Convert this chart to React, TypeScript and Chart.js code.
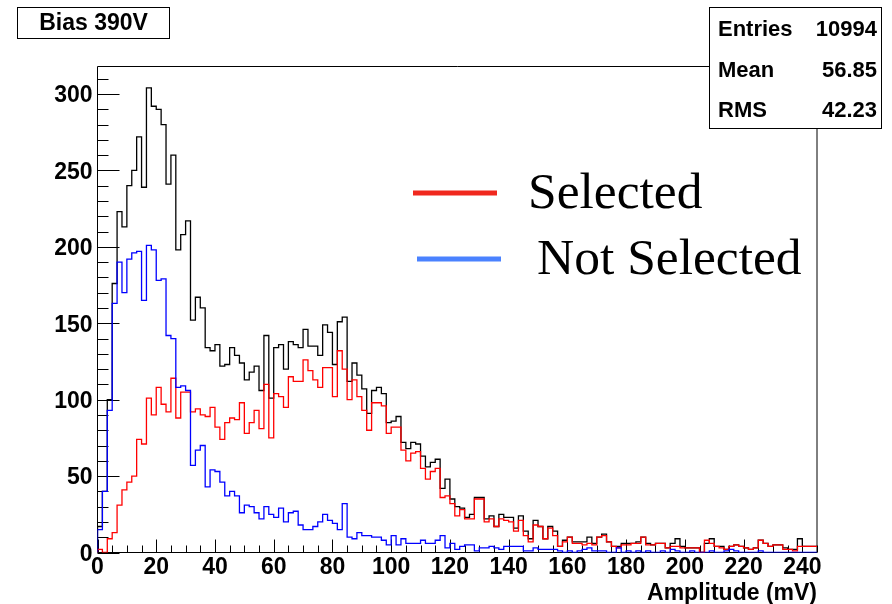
import React, { useEffect, useRef } from 'react';
import { Chart, registerables } from 'chart.js';

Chart.register(...registerables);

const X_MIN = 0;
const X_MAX = 245;
const Y_MAX = 318;
const xTickValues = [0, 20, 40, 60, 80, 100, 120, 140, 160, 180, 200, 220, 240];
const yTickValues = [0, 50, 100, 150, 200, 250, 300];
const plotTitle = 'Bias 390V';
const axisTitle = 'Amplitude (mV)';
const statsLabels = ['Entries', 'Mean', 'RMS'];
const statsValues = ['10994', '56.85', '42.23'];
const legendLabels = ['Selected', 'Not Selected'];

// counts per bin (147 bins, 0 - 245 mV)
const totalCounts = [
  17, 40, 100, 176, 223, 213, 240, 250, 272, 239, 304, 292, 290, 280, 241, 260, 198, 208, 217, 152,
  167, 160, 134, 132, 136, 122, 123, 134, 129, 124, 113, 118, 122, 106, 142, 101, 134, 136, 120, 138,
  136, 134, 146, 135, 135, 129, 149, 144, 123, 151, 154, 112, 124, 116, 107, 91, 106, 108, 104, 85,
  86, 89, 72, 68, 72, 71, 63, 56, 59, 61, 42, 48, 35, 30, 29, 23, 25, 36, 36, 22,
  24, 17, 25, 23, 23, 16, 24, 14, 9, 21, 17, 9, 17, 14, 4, 8, 10, 7, 7, 7,
  10, 6, 10, 12, 7, 4, 4, 6, 6, 6, 7, 10, 6, 5, 6, 6, 3, 6, 9, 4,
  3, 3, 3, 0, 6, 9, 4, 4, 2, 4, 5, 4, 3, 2, 3, 8, 6, 4, 5, 5,
  3, 2, 2, 9, 4, 4, 4,
];
const selectedCounts = [
  2, 0, 9, 13, 31, 41, 46, 50, 74, 71, 101, 90, 108, 97, 92, 114, 88, 105, 105, 92,
  94, 90, 89, 95, 82, 74, 85, 88, 87, 98, 78, 85, 93, 81, 110, 75, 104, 102, 95, 115,
  112, 112, 126, 119, 113, 108, 121, 121, 102, 132, 120, 100, 113, 102, 93, 80, 98, 98, 96, 78,
  82, 82, 67, 60, 65, 66, 55, 48, 53, 55, 36, 37, 32, 24, 28, 22, 22, 35, 35, 20,
  22, 17, 22, 21, 20, 14, 21, 11, 7, 18, 17, 9, 16, 11, 4, 7, 10, 6, 6, 5,
  6, 5, 10, 11, 7, 4, 3, 5, 5, 6, 6, 10, 5, 5, 6, 6, 3, 4, 4, 3,
  3, 3, 3, 0, 8, 6, 4, 3, 2, 4, 5, 4, 3, 2, 3, 8, 6, 4, 5, 5,
  2, 2, 1, 4, 4, 4, 4,
];
const notSelectedCounts = [
  15, 40, 93, 163, 190, 170, 192, 196, 197, 165, 201, 198, 178, 179, 142, 140, 108, 109, 106, 57,
  67, 70, 43, 54, 53, 46, 37, 40, 37, 26, 31, 30, 26, 22, 30, 25, 23, 29, 20, 26,
  27, 18, 15, 15, 17, 20, 25, 21, 19, 15, 32, 10, 9, 13, 11, 11, 10, 10, 8, 5,
  11, 5, 9, 6, 6, 6, 8, 6, 6, 8, 11, 3, 6, 2, 4, 5, 5, 1, 3, 3,
  4, 3, 2, 4, 4, 4, 4, 1, 1, 3, 2, 2, 2, 2, 1, 0, 1, 0, 1, 2,
  3, 1, 1, 1, 0, 0, 3, 0, 1, 0, 1, 0, 1, 0, 0, 1, 0, 2, 1, 0,
  0, 1, 0, 0, 0, 1, 0, 0, 1, 2, 1, 0, 0, 0, 0, 1, 0, 0, 0, 0,
  0, 0, 0, 0, 0, 0, 0,
];

const FONT = '"Liberation Sans", Arial, Helvetica, sans-serif';
const SERIF = '"Liberation Serif", "DejaVu Serif", serif';

function toSteps(values: number[]) {
  const w = (X_MAX - X_MIN) / values.length;
  const pts = values.map((v, i) => ({ x: X_MIN + i * w, y: v }));
  pts.unshift({ x: X_MIN, y: 0 });
  pts.push({ x: X_MAX, y: values[values.length - 1] });
  return pts;
}

const rootPlugin = {
  id: 'rootStyle',
  beforeDatasetsDraw(chart: any) {
    const { ctx, chartArea: a, scales } = chart;
    const xs = scales.x;
    const ys = scales.y;
    ctx.save();
    ctx.strokeStyle = '#000';
    ctx.lineWidth = 1;
    ctx.beginPath();
    ctx.rect(a.left, a.top, a.right - a.left, a.bottom - a.top);
    ctx.stroke();
    ctx.beginPath();
    for (let v = 0; v <= X_MAX; v += 5) {
      const px = Math.round(xs.getPixelForValue(v)) + 0.5;
      const len = v % 20 === 0 ? 13 : 7;
      ctx.moveTo(px, a.bottom);
      ctx.lineTo(px, a.bottom - len);
    }
    for (let v = 0; v <= Y_MAX; v += 10) {
      const py = Math.round(ys.getPixelForValue(v)) + 0.5;
      const len = v % 50 === 0 ? 22 : 11;
      ctx.moveTo(a.left, py);
      ctx.lineTo(a.left + len, py);
    }
    ctx.stroke();
    ctx.restore();
  },
  afterDraw(chart: any) {
    const { ctx } = chart;
    ctx.save();
    // title box
    ctx.fillStyle = '#fff';
    ctx.fillRect(17.5, 7.5, 152, 31);
    ctx.strokeStyle = '#000';
    ctx.lineWidth = 1;
    ctx.strokeRect(17.5, 7.5, 152, 31);
    ctx.fillStyle = '#000';
    ctx.font = `bold 23px ${FONT}`;
    ctx.textAlign = 'center';
    ctx.textBaseline = 'middle';
    ctx.fillText(plotTitle, 93.5, 24);
    // stats box
    ctx.fillStyle = '#fff';
    ctx.fillRect(709.5, 7.5, 172, 121);
    ctx.strokeRect(709.5, 7.5, 172, 121);
    ctx.fillStyle = '#000';
    ctx.font = `bold 22px ${FONT}`;
    statsLabels.forEach((lab, i) => {
      const y = 30 + i * 40.5;
      ctx.textAlign = 'left';
      ctx.fillText(lab, 718, y);
      ctx.textAlign = 'right';
      ctx.fillText(statsValues[i], 877, y);
    });
    // legend
    const colors = ['#f0281e', '#4a82ff'];
    const lineY = [193, 259];
    const lineX = [413, 417];
    const textX = [528, 537];
    legendLabels.forEach((lab, i) => {
      ctx.strokeStyle = colors[i];
      ctx.lineWidth = 5;
      ctx.beginPath();
      ctx.moveTo(lineX[i], lineY[i]);
      ctx.lineTo(lineX[i] + 84, lineY[i]);
      ctx.stroke();
      ctx.fillStyle = '#000';
      ctx.font = `51.5px ${SERIF}`;
      ctx.textAlign = 'left';
      ctx.textBaseline = 'alphabetic';
      ctx.fillText(lab, textX[i], lineY[i] + 15);
    });
    ctx.restore();
  },
};

export default function App() {
  const ref = useRef<HTMLCanvasElement>(null);
  useEffect(() => {
    const canvas = ref.current!;
    const chart = new Chart(canvas, {
      type: 'line',
      data: {
        datasets: [
          { label: 'Not Selected', data: toSteps(notSelectedCounts), borderColor: '#0000ff', order: 0 },
          { label: 'Selected', data: toSteps(selectedCounts), borderColor: '#ff0000', order: 1 },
          { label: 'Total', data: toSteps(totalCounts), borderColor: '#000000', order: 2 },
        ].map((d) => ({
          ...d,
          stepped: true,
          borderWidth: 1.3,
          pointRadius: 0,
          fill: false,
          tension: 0,
        })) as any,
      },
      options: {
        animation: false,
        responsive: false,
        maintainAspectRatio: false,
        devicePixelRatio: 1,
        layout: { padding: { top: 66.5, right: 75, left: 0, bottom: 0 } },
        plugins: { legend: { display: false }, tooltip: { enabled: false }, title: { display: false } },
        scales: {
          x: {
            type: 'linear',
            min: X_MIN,
            max: X_MAX,
            grid: { display: false, drawTicks: false },
            border: { display: false },
            afterBuildTicks: (s: any) => {
              s.ticks = xTickValues.map((v) => ({ value: v }));
            },
            ticks: {
              autoSkip: false,
              maxRotation: 0,
              padding: 1,
              color: '#000',
              font: { family: FONT, weight: 'bold', size: 23 },
            },
            title: {
              display: true,
              text: axisTitle,
              align: 'end',
              color: '#000',
              padding: { top: 0, bottom: -1 },
              font: { family: FONT, weight: 'bold', size: 23, lineHeight: 1.0 },
            },
            afterFit: (s: any) => {
              s.height = 51.5;
            },
          },
          y: {
            type: 'linear',
            min: 0,
            max: Y_MAX,
            grid: { display: false, drawTicks: false },
            border: { display: false },
            afterBuildTicks: (s: any) => {
              s.ticks = yTickValues.map((v) => ({ value: v }));
            },
            ticks: {
              padding: 5,
              labelOffset: 2,
              color: '#000',
              font: { family: FONT, weight: 'bold', size: 23 },
            },
            afterFit: (s: any) => {
              s.width = 97.5;
            },
          },
        },
      } as any,
      plugins: [rootPlugin],
    });
    return () => chart.destroy();
  }, []);
  return (
    <div style={{ position: 'absolute', left: 0, top: 0, width: 892, height: 604, background: '#fff' }}>
      <canvas ref={ref} width={892} height={604} style={{ display: 'block' }} />
    </div>
  );
}
